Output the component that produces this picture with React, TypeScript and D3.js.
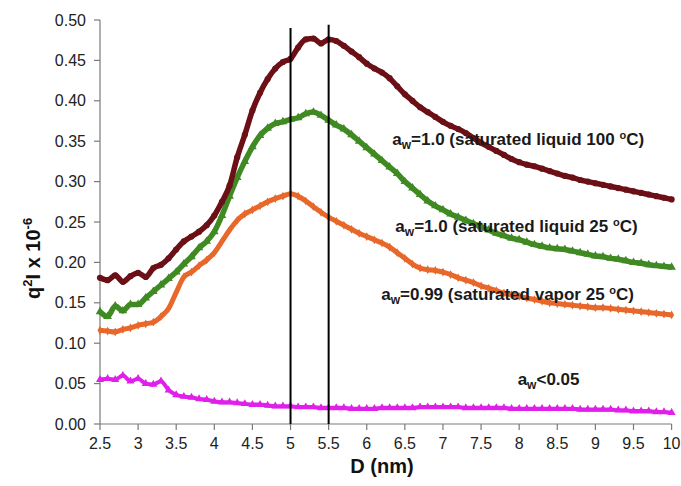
import * as d3 from "d3";

const W = 681;
const H = 486;
const MARGIN = { top: 20, right: 10, bottom: 62, left: 100 };

// D (nm) sample positions
const dValues = [
  2.5, 2.6, 2.7, 2.8, 2.9, 3.0, 3.1, 3.2, 3.3, 3.4, 3.5, 3.6, 3.7, 3.8, 3.9,
  4.0, 4.1, 4.2, 4.3, 4.4, 4.5, 4.6, 4.7, 4.8, 4.9, 5.0, 5.1, 5.2, 5.3, 5.4,
  5.5, 5.6, 5.7, 5.8, 5.9, 6.0, 6.1, 6.2, 6.3, 6.4, 6.5, 6.6, 6.7, 6.8, 6.9,
  7.0, 7.1, 7.2, 7.3, 7.4, 7.5, 7.6, 7.7, 7.8, 7.9, 8.0, 8.1, 8.2, 8.3, 8.4,
  8.5, 8.6, 8.7, 8.8, 8.9, 9.0, 9.1, 9.2, 9.3, 9.4, 9.5, 9.6, 9.7, 9.8, 9.9,
  10.0,
];

// aw=1.0 saturated liquid 100 oC
const liquid100 = [
  0.181, 0.178, 0.184, 0.176, 0.183, 0.187, 0.182, 0.193, 0.197, 0.205, 0.216, 0.226, 0.232, 0.238, 0.246,
  0.258, 0.275, 0.295, 0.33, 0.358, 0.388, 0.41, 0.427, 0.44, 0.448, 0.452, 0.466, 0.476, 0.477, 0.471,
  0.476, 0.474, 0.468, 0.461, 0.454, 0.446, 0.44, 0.435, 0.428, 0.418, 0.408, 0.4, 0.392, 0.386, 0.38,
  0.374, 0.369, 0.365, 0.36, 0.354, 0.348, 0.343, 0.338, 0.333, 0.328, 0.324, 0.321, 0.319, 0.316, 0.313,
  0.31, 0.307, 0.305, 0.302, 0.3, 0.298, 0.296, 0.294, 0.292, 0.29, 0.288, 0.286, 0.284, 0.282, 0.28,
  0.278,
];

// aw=1.0 saturated liquid 25 oC
const liquid25 = [
  0.139, 0.133, 0.146, 0.14, 0.148, 0.148, 0.156, 0.164, 0.172, 0.18, 0.188, 0.198, 0.207, 0.218, 0.226,
  0.238, 0.258, 0.282, 0.305, 0.325, 0.343, 0.357, 0.366, 0.372, 0.374, 0.377, 0.379, 0.384, 0.386, 0.382,
  0.376, 0.37, 0.365, 0.358, 0.35, 0.342, 0.334, 0.326, 0.318, 0.31, 0.3, 0.292, 0.284, 0.276, 0.27,
  0.265, 0.26, 0.256, 0.252, 0.248, 0.244, 0.24, 0.236, 0.233, 0.23, 0.228, 0.225, 0.222, 0.22, 0.218,
  0.217, 0.216, 0.214, 0.212, 0.21, 0.208, 0.207, 0.205, 0.204, 0.202, 0.2, 0.199, 0.197, 0.196, 0.195,
  0.194,
];

// aw=0.99 saturated vapor 25 oC
const vapor25 = [
  0.116, 0.115, 0.114, 0.117, 0.119, 0.122, 0.124, 0.126, 0.133, 0.143, 0.163, 0.182, 0.188, 0.196, 0.203,
  0.212, 0.226, 0.24, 0.252, 0.26, 0.265, 0.27, 0.275, 0.279, 0.282, 0.285, 0.282, 0.276, 0.269, 0.262,
  0.256, 0.251, 0.246, 0.241, 0.236, 0.232, 0.228, 0.224, 0.219, 0.212, 0.205, 0.198, 0.193, 0.191, 0.19,
  0.188, 0.185, 0.181, 0.178, 0.175, 0.171, 0.168, 0.165, 0.162, 0.16, 0.158, 0.156, 0.154, 0.152, 0.15,
  0.149, 0.148, 0.147, 0.146, 0.145, 0.144, 0.144, 0.143, 0.142, 0.141, 0.14, 0.139, 0.138, 0.137, 0.136,
  0.135,
];

// aw<0.05
const dry = [
  0.055, 0.056, 0.055, 0.06, 0.053, 0.056, 0.05, 0.049, 0.053, 0.042, 0.036, 0.034, 0.033, 0.031, 0.03,
  0.028, 0.027, 0.027, 0.026, 0.025, 0.024, 0.024, 0.023, 0.022, 0.022, 0.022, 0.021, 0.021, 0.021, 0.02,
  0.02, 0.02, 0.02, 0.019, 0.019, 0.019, 0.019, 0.02, 0.02, 0.02, 0.02, 0.02, 0.021, 0.021, 0.021,
  0.021, 0.021, 0.021, 0.02, 0.02, 0.02, 0.02, 0.02, 0.02, 0.019, 0.019, 0.019, 0.019, 0.019, 0.019,
  0.019, 0.019, 0.019, 0.018, 0.018, 0.018, 0.018, 0.018, 0.017, 0.017, 0.016, 0.016, 0.016, 0.015, 0.015,
  0.014,
];

const xTicks = [2.5, 3, 3.5, 4, 4.5, 5, 5.5, 6, 6.5, 7, 7.5, 8, 8.5, 9, 9.5, 10];
const yTicks = [0, 0.05, 0.1, 0.15, 0.2, 0.25, 0.3, 0.35, 0.4, 0.45, 0.5];

// vertical marker lines: position and top value
const markerLines = [
  { d: 5, top: 0.49 },
  { d: 5.5, top: 0.494 },
];

const series = [
  { name: "dry", values: dry, color: "#e020ea", shape: d3.symbolTriangle, size: 28, width: 4 },
  { name: "vapor25", values: vapor25, color: "#e8672a", shape: d3.symbolDiamond, size: 22, width: 5 },
  { name: "liquid25", values: liquid25, color: "#3f8a22", shape: d3.symbolTriangle, size: 32, width: 5.5 },
  { name: "liquid100", values: liquid100, color: "#6b1016", shape: d3.symbolCircle, size: 30, width: 5.5 },
];

// annotation labels: anchor in data coords
const labels = [
  { d: 6.335, v: 0.345, main: "=1.0 (saturated liquid 100 ", tail: "C)" },
  { d: 6.375, v: 0.238, main: "=1.0 (saturated liquid 25 ", tail: "C)" },
  { d: 6.19, v: 0.153, main: "=0.99 (saturated vapor 25 ", tail: "C)" },
  { d: 7.98, v: 0.048, main: "<0.05", tail: null },
];

const FONT = "'Liberation Sans', Arial, sans-serif";

export default function App() {
  const boundsW = W - MARGIN.left - MARGIN.right;
  const boundsH = H - MARGIN.top - MARGIN.bottom;

  const x = d3.scaleLinear().domain([2.5, 10]).range([0, boundsW + 0.6]);
  const y = d3.scaleLinear().domain([0, 0.5]).range([boundsH, 0]);

  const line = d3
    .line<number>()
    .x((_, i) => x(dValues[i]))
    .y((v) => y(v))
    .curve(d3.curveMonotoneX);

  return (
    <svg
      width={W}
      height={H}
      style={{ position: "absolute", left: 0, top: 0, background: "#fff" }}
      fontFamily={FONT}
    >
      <g transform={`translate(${MARGIN.left},${MARGIN.top})`}>
        {/* axes */}
        <line x1={0} x2={0} y1={0} y2={boundsH} stroke="#7a7a7a" strokeWidth={1.2} />
        <line x1={0} x2={x(10)} y1={boundsH} y2={boundsH} stroke="#7a7a7a" strokeWidth={1.2} />
        {yTicks.map((t) => (
          <g key={t} transform={`translate(0,${y(t)})`}>
            <line x1={-6} x2={0} stroke="#7a7a7a" strokeWidth={1.2} />
            <text x={-14} dy="0.35em" textAnchor="end" fontSize={16} fill="#222">
              {t.toFixed(2)}
            </text>
          </g>
        ))}
        {xTicks.map((t) => (
          <g key={t} transform={`translate(${x(t)},${boundsH})`}>
            <line y1={0} y2={6} stroke="#7a7a7a" strokeWidth={1.2} />
            <text y={19} dy="0.35em" textAnchor="middle" fontSize={16} fill="#222">
              {String(t)}
            </text>
          </g>
        ))}

        {/* curves */}
        {series.map((s) => {
          const sym = d3.symbol().type(s.shape).size(s.size)();
          return (
            <g key={s.name}>
              <path d={line(s.values) || ""} fill="none" stroke={s.color} strokeWidth={s.width} strokeLinejoin="round" />
              {s.values.map((v, i) => (
                <path
                  key={i}
                  d={sym || ""}
                  transform={`translate(${x(dValues[i])},${y(v)})`}
                  fill={s.color}
                />
              ))}
            </g>
          );
        })}

        {/* vertical reference lines */}
        {markerLines.map((m) => (
          <line
            key={m.d}
            x1={x(m.d)}
            x2={x(m.d)}
            y1={y(m.top)}
            y2={boundsH}
            stroke="#000"
            strokeWidth={2}
          />
        ))}

        {/* annotations */}
        {labels.map((l, i) => (
          <text key={i} x={x(l.d)} y={y(l.v)} fontSize={17} fontWeight="bold" fill="#1a1a1a">
            a
            <tspan fontSize={12} dy={4}>w</tspan>
            <tspan dy={-4}>{l.main}</tspan>
            {l.tail && (
              <>
                <tspan fontSize={11} dy={-6}>o</tspan>
                <tspan dy={6}>{l.tail}</tspan>
              </>
            )}
          </text>
        ))}
      </g>

      {/* axis titles */}
      <text
        x={MARGIN.left + x(6.2)}
        y={473}
        textAnchor="middle"
        fontSize={20}
        fontWeight="bold"
        fill="#111"
      >
        D (nm)
      </text>
      <text
        transform={`translate(40,${MARGIN.top + y(0.205)}) rotate(-90)`}
        textAnchor="middle"
        fontSize={20}
        fontWeight="bold"
        fill="#111"
      >
        q<tspan fontSize={13} dy={-8}>2</tspan>
        <tspan dy={8}>I x 10</tspan>
        <tspan fontSize={13} dy={-8}>-6</tspan>
      </text>
    </svg>
  );
}
